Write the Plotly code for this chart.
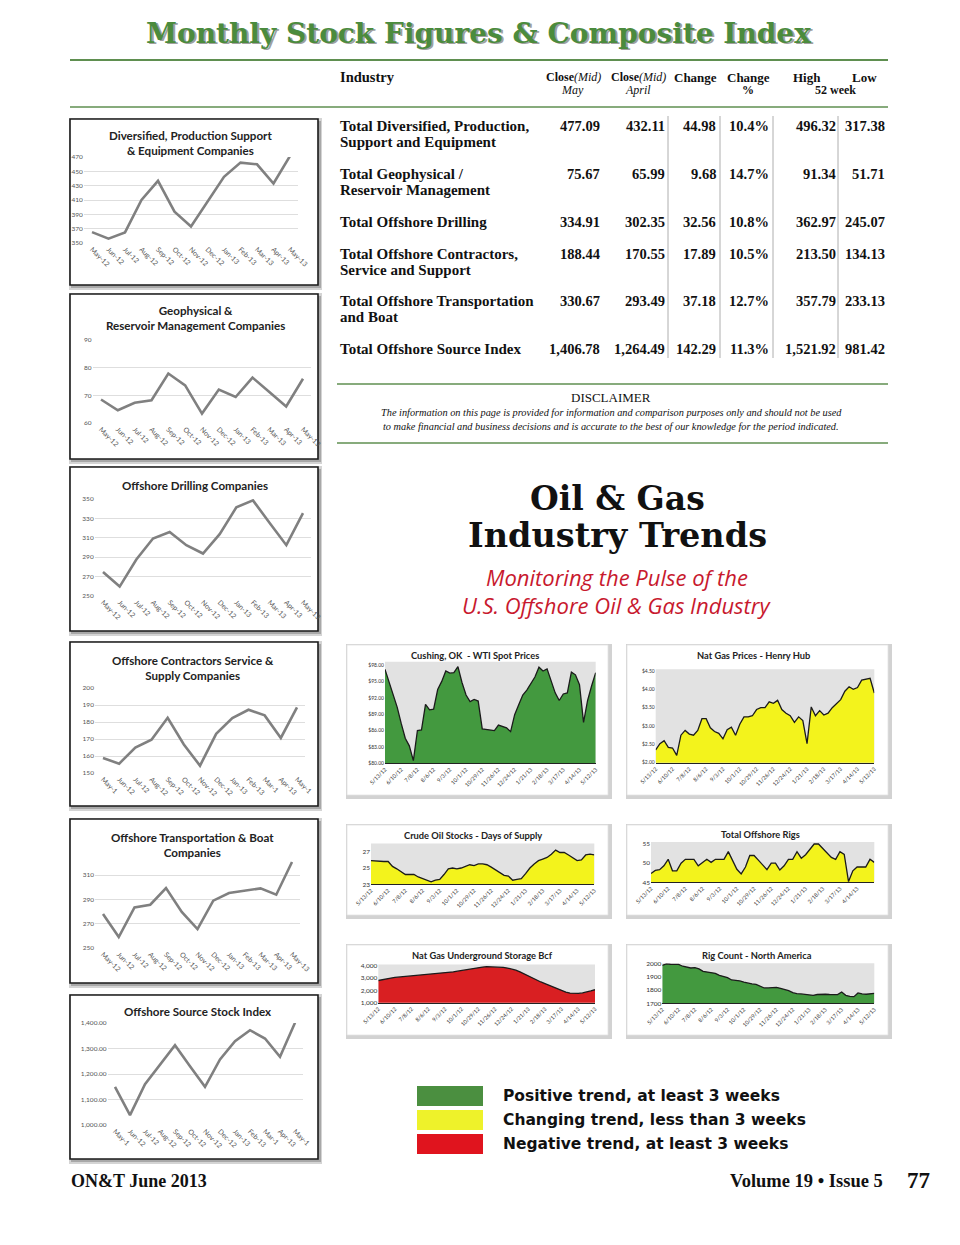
import plotly.graph_objects as go

W, H = 960, 1245          # page (window) size
OFF = 8                   # browser body margin
FW, FH = W - OFF, H - OFF  # figure size that fits the window

# ---------------- data ----------------
months_full = ["May-12", "Jun-12", "Jul-12", "Aug-12", "Sep-12", "Oct-12", "Nov-12",
               "Dec-12", "Jan-13", "Feb-13", "Mar-13", "Apr-13", "May-13"]
months_short = ["May-1", "Jun-12", "Jul-12", "Aug-12", "Sep-12", "Oct-12", "Nov-12",
                "Dec-12", "Jan-13", "Feb-13", "Mar-1", "Apr-13", "May-1"]

diversified = [365.2, 356.0, 364.8, 410.0, 436.8, 393.8, 373.0, 407.7, 442.3, 462.2, 459.8, 433.0, 471.4]
geophysical = [68.5, 64.6, 67.3, 68.2, 77.9, 73.6, 63.4, 72.1, 69.4, 76.4, 71.2, 66.0, 76.0]
drilling = [274.8, 259.7, 287.6, 309.3, 316.0, 302.4, 293.8, 313.8, 341.4, 348.6, 325.2, 302.4, 335.5]
contractors = [158.8, 155.5, 164.9, 169.6, 182.5, 166.8, 154.3, 173.0, 182.3, 187.2, 183.9, 170.6, 188.6]
transportation = [277.9, 259.0, 283.4, 285.6, 299.3, 279.6, 265.6, 288.9, 295.2, 297.1, 299.0, 293.8, 320.7]
source_index = [1149.7, 1038.6, 1160.0, 1238.6, 1313.0, 1230.7, 1149.7, 1256.9, 1328.8, 1371.9, 1339.2, 1267.3, 1400.7]

week_ticks = ["5/13/12", "6/10/12", "7/8/12", "8/6/12", "9/3/12", "10/1/12", "10/29/12",
              "11/26/12", "12/24/12", "1/21/13", "2/18/13", "3/17/13", "4/14/13", "5/12/13"]

wti = [97.2, 95.0, 92.8, 90.3, 87.3, 84.6, 83.2, 80.5, 86.0, 86.1, 90.8, 89.8, 89.9, 93.5,
       95.0, 96.9, 96.5, 96.6, 97.7, 94.8, 92.5, 91.3, 91.7, 91.4, 86.3, 86.2, 86.1, 86.0,
       87.0, 86.8, 86.5, 85.8, 88.9, 90.7, 92.5, 93.4, 94.6, 95.8, 97.6, 96.9, 97.3, 95.2,
       92.9, 91.5, 92.7, 92.9, 96.7, 96.2, 94.4, 87.5, 91.5, 94.2, 96.6]
henry_hub = [2.35, 2.52, 2.60, 2.42, 2.40, 2.20, 2.75, 2.88, 2.78, 2.75, 2.88, 3.20, 3.20, 2.95,
             2.85, 2.80, 2.65, 2.90, 2.97, 2.75, 3.05, 3.25, 3.25, 3.28, 3.45, 3.50, 3.50, 3.66,
             3.62, 3.70, 3.45, 3.35, 3.28, 3.10, 3.25, 3.15, 2.52, 3.52, 3.28, 3.42, 3.30, 3.35,
             3.50, 3.60, 3.72, 3.95, 4.07, 4.00, 4.05, 4.25, 4.27, 4.30, 3.90]
crude_days = [25.9, 25.85, 25.8, 25.8, 25.8, 25.2, 24.9, 24.5, 24.2, 24.2, 24.2, 23.9, 23.7, 23.5,
              23.3, 23.5, 23.6, 24.2, 24.9, 25.0, 24.9, 25.0, 25.2, 25.4, 25.3, 25.5, 25.5, 25.4,
              25.1, 24.8, 24.4, 24.1, 24.0, 23.5, 23.6, 23.7, 24.3, 25.0, 25.5, 25.9, 26.1, 26.3,
              26.7, 27.2, 26.9, 26.9, 26.6, 26.2, 25.9, 26.0, 26.6, 26.7, 26.6]
offshore_rigs = [47.3, 48.1, 48.3, 49.3, 51.0, 48.0, 48.0, 50.0, 51.0, 51.0, 51.0, 49.3, 50.2, 51.0,
                 50.2, 51.0, 51.0, 51.0, 53.0, 50.8, 48.4, 47.2, 49.0, 52.0, 52.0, 50.8, 49.5, 48.3,
                 50.0, 50.0, 48.2, 49.3, 51.0, 51.0, 53.0, 51.3, 52.2, 53.5, 55.0, 55.0, 53.8, 52.5,
                 51.5, 51.0, 53.0, 52.3, 45.2, 48.0, 49.0, 49.0, 49.0, 51.0, 50.2]
gas_storage = [2800, 2880, 2950, 3000, 3050, 3080, 3100, 3140, 3180, 3200, 3230, 3250, 3260, 3300,
               3330, 3380, 3420, 3460, 3500, 3560, 3620, 3690, 3750, 3800, 3850, 3890, 3920, 3920,
               3900, 3880, 3860, 3810, 3750, 3640, 3500, 3330, 3150, 2970, 2800, 2680, 2550, 2400,
               2250, 2100, 1950, 1860, 1780, 1760, 1750, 1790, 1850, 1950, 2050]
rig_count = [1985, 1995, 1993, 1990, 1992, 1978, 1970, 1965, 1968, 1958, 1940, 1935, 1932, 1925,
             1910, 1900, 1893, 1875, 1872, 1868, 1858, 1850, 1845, 1842, 1830, 1815, 1815, 1818,
             1820, 1812, 1805, 1795, 1780, 1772, 1770, 1768, 1762, 1760, 1766, 1768, 1768, 1766,
             1765, 1765, 1785, 1760, 1752, 1750, 1778, 1770, 1768, 1772, 1775]

industry_lines = [["Total Diversified, Production,", "Support and Equipment"],
                  ["Total Geophysical /", "Reservoir Management"],
                  ["Total Offshore Drilling"],
                  ["Total Offshore Contractors,", "Service and Support"],
                  ["Total Offshore Transportation", "and Boat"],
                  ["Total Offshore Source Index"]]
close_may = [477.09, 75.67, 334.91, 188.44, 330.67, 1406.78]
close_april = [432.11, 65.99, 302.35, 170.55, 293.49, 1264.49]
change = [44.98, 9.68, 32.56, 17.89, 37.18, 142.29]
change_pct = [10.4, 14.7, 10.8, 10.5, 12.7, 11.3]
high_52 = [496.32, 91.34, 362.97, 213.50, 357.79, 1521.92]
low_52 = [317.38, 51.71, 245.07, 134.13, 233.13, 981.42]

legend_labels = ["Positive trend, at least 3 weeks", "Changing trend, less than 3 weeks",
                 "Negative trend, at least 3 weeks"]

GREEN, YELLOW, RED = "#43993f", "#f3f31c", "#d91f22"

# ---------------- helpers (page pixels -> paper fraction) ----------------
def X(p):
    return (p - OFF) / FW


def Y(p):
    return 1 - (p - OFF) / FH


shapes, annotations = [], []
layout_axes = {}
fig = go.Figure()


def rect(x0, y0, x1, y1, fill, lc="rgba(0,0,0,0)", lw=0):
    shapes.append(dict(type="rect", xref="paper", yref="paper", x0=X(x0), x1=X(x1),
                       y0=Y(y1), y1=Y(y0), fillcolor=fill, line=dict(color=lc, width=lw),
                       layer="below"))


def seg(x0, y0, x1, y1, color, width):
    shapes.append(dict(type="line", xref="paper", yref="paper", x0=X(x0), x1=X(x1),
                       y0=Y(y0), y1=Y(y1), line=dict(color=color, width=width), layer="below"))


def text(x, y, s, size, family, color="#111", xanchor="center", yanchor="middle",
         weight="normal", style="normal"):
    annotations.append(dict(x=X(x), y=Y(y), xref="paper", yref="paper", text=s,
                            showarrow=False, xanchor=xanchor, yanchor=yanchor,
                            borderpad=0,
                            font=dict(size=size, family=family, color=color,
                                      weight=weight, style=style)))


def axis_names(n):
    return ("xaxis" if n == 1 else f"xaxis{n}", "yaxis" if n == 1 else f"yaxis{n}",
            "x" if n == 1 else f"x{n}", "y" if n == 1 else f"y{n}")


# ---------------- title & table ----------------
title = "Monthly Stock Figures & Composite Index"
text(480, 35, title, 28, "DejaVu Serif", color="#a0a0a0", weight="bold")
text(478, 33, title, 28, "DejaVu Serif", color="#4b8b3d", weight="bold")
seg(70, 60, 888, 60, "#5f8f50", 2)
seg(70, 107, 888, 107, "#5f8f50", 1.5)
seg(337, 384, 888, 384, "#5f8f50", 1.5)
seg(337, 443, 888, 443, "#5f8f50", 1.5)

SERIF = "Liberation Serif"
text(339, 77, "Industry", 14.5, SERIF, xanchor="left", weight="bold")
text(573, 77, "<b>Close</b><i>(Mid)</i>", 12, SERIF)
text(572, 90, "<i>May</i>", 12, SERIF)
text(638, 77, "<b>Close</b><i>(Mid)</i>", 12, SERIF)
text(638, 90, "<i>April</i>", 12, SERIF)
text(695, 77, "Change", 13, SERIF, weight="bold")
text(748, 77, "Change", 13, SERIF, weight="bold")
text(748, 90, "%", 12, SERIF, weight="bold")
text(807, 77, "High", 13, SERIF, weight="bold")
text(864, 77, "Low", 13, SERIF, weight="bold")
text(835, 90, "52 week", 12, SERIF, weight="bold")

row_y = [126, 174, 222, 254, 301, 349]
col_right = [600, 665, 716, 769, 836, 885]
for i, yy in enumerate(row_y):
    for k, line in enumerate(industry_lines[i]):
        text(339, yy + 16 * k, line, 15, SERIF, xanchor="left", weight="bold")
    vals = [f"{close_may[i]:,.2f}", f"{close_april[i]:,.2f}", f"{change[i]:,.2f}",
            f"{change_pct[i]:.1f}%", f"{high_52[i]:,.2f}", f"{low_52[i]:,.2f}"]
    for xr, v in zip(col_right, vals):
        text(xr + 1, yy, v, 14.5, SERIF, xanchor="right", weight="bold")
for xv in [668, 720, 773, 838]:
    seg(xv, 116, xv, 358, "#9a9a9a", 0.8)

text(611, 397, "DISCLAIMER", 13, SERIF)
text(611, 412, "The information on this page is provided for information and comparison purposes only and should not be used",
     10.3, SERIF, style="italic")
text(611, 427, "to make financial and business decisions and is accurate to the best of our knowledge for the period indicated.",
     10.3, SERIF, style="italic")

text(617, 498, "Oil & Gas", 33, "DejaVu Serif", color="#111", weight="bold")
text(617, 536, "Industry Trends", 33.5, "DejaVu Serif", color="#111", weight="bold")
text(617, 577, "Monitoring the Pulse of the", 22, "Open Sans", color="#c8192e", style="italic")
text(617, 605, "U.S. Offshore Oil & Gas Industry", 22, "Open Sans", color="#c8192e", style="italic")

# ---------------- left line charts ----------------
left_specs = [
    ("Diversified, Production Support<br>& Equipment Companies", months_full, diversified,
     92, 290, 243, 157, 350, 470, [350, 370, 390, 410, 430, 450, 470], None, (70, 119, 318, 285), 190, 143.5),
    ("Geophysical &<br>Reservoir Management Companies", months_full, geophysical,
     101, 303, 423, 340, 60, 90, [60, 70, 80, 90], None, (70, 294, 318, 459), 195, 318.5),
    ("Offshore Drilling Companies", months_full, drilling,
     103, 303, 596, 499, 250, 350, [250, 270, 290, 310, 330, 350], None, (70, 467, 318, 631), 195, 485),
    ("Offshore Contractors Service &<br>Supply Companies", months_short, contractors,
     103, 297, 773, 688, 150, 200, [150, 160, 170, 180, 190, 200], None, (70, 642, 318, 806), 193, 667.5),
    ("Offshore Transportation & Boat<br>Companies", months_full, transportation,
     103, 292, 948, 875, 250, 310, [250, 270, 290, 310], None, (70, 819, 318, 983), 192, 845),
    ("Offshore Source Stock Index", months_short, source_index,
     115, 295, 1125, 1023, 1000, 1400, [1000, 1100, 1200, 1300, 1400], "{:,.2f}", (70, 995, 318, 1159), 198, 1012),
]

n = 0
for (ttl, labels, vals, xf, xl, yb, yt, ymin, ymax, yticks, fmt, box, tx, ty) in left_specs:
    n += 1
    xa, ya, xr, yr = axis_names(n)
    bx0, by0, bx1, by1 = box
    rect(bx0 - 1, by0 - 1, bx1 + 4, by1 + 5, "#d4d4d4")
    rect(bx0 + 1, by0 + 2, bx1 + 3, by1 + 3, "#a8a8a8")
    rect(bx0, by0, bx1, by1, "white", "#1a1a1a", 1.6)
    idx = list(range(len(labels)))
    unit = (xl - xf) / (len(labels) - 1)
    per = (yb - yt) / (ymax - ymin)
    top_val = ymax if n != 5 else 322
    ytop_px = yb - (top_val - ymin) * per
    fig.add_trace(go.Scatter(x=idx, y=vals, mode="lines", xaxis=xr, yaxis=yr,
                             line=dict(color="#808080", width=2.6), hoverinfo="skip"))
    layout_axes[xa] = dict(domain=[X(xf - 0.5 * unit), X(xl + 0.5 * unit)], range=[-0.5, len(labels) - 0.5],
                           anchor=yr, tickmode="array", tickvals=idx, ticktext=labels, tickangle=45,
                           tickfont=dict(size=7, family="Lato", color="#555"), showgrid=False,
                           zeroline=False, showline=False, ticks="", fixedrange=True, automargin=False)
    layout_axes[ya] = dict(domain=[Y(yb), Y(ytop_px)], range=[ymin, top_val], anchor=xr,
                           tickmode="array", tickvals=yticks,
                           ticktext=[fmt.format(v) if fmt else str(v) for v in yticks],
                           tickfont=dict(size=6.5, family="Lato", color="#555"), showgrid=True,
                           gridcolor="#dedede", gridwidth=1, zeroline=False, showline=False,
                           ticks="", fixedrange=True, automargin=False)
    text(tx, ty, ttl, 11.6, "Lato", color="#222", weight="bold")

# ---------------- right area charts ----------------
right_specs = [
    ("Cushing, OK  - WTI Spot Prices", wti, GREEN, 385, 595.7, 763.3, 665, 80, 98, 98.6,
     [80, 83, 86, 89, 92, 95, 98], "${:.2f}", week_ticks, (347, 645, 608, 795), 475, 655, 5),
    ("Nat Gas Prices - Henry Hub", henry_hub, YELLOW, 655.7, 874.3, 762.7, 671, 2, 4.5, 4.55,
     [2.0, 2.5, 3.0, 3.5, 4.0, 4.5], "${:.2f}", week_ticks, (627, 645, 888, 795), 753, 655, 5),
    ("Crude Oil Stocks - Days of Supply", crude_days, YELLOW, 371, 594.3, 884.3, 851.7, 23, 27, 28,
     [23, 25, 27], "{}", week_ticks, (347, 825, 608, 915), 473, 835, 6.5),
    ("Total Offshore Rigs", offshore_rigs, YELLOW, 651, 874.3, 882.3, 844, 45, 55, 55.5,
     [45, 50, 55], "{}", week_ticks[:-1], (627, 825, 888, 915), 760, 834, 6.5),
    ("Nat Gas Underground Storage Bcf", gas_storage, RED, 378.3, 595, 1002.7, 965.7, 1000, 4000, 4100,
     [1000, 2000, 3000, 4000], "{:,}", week_ticks, (347, 945, 608, 1035), 482, 955, 6.5),
    ("Rig Count - North America", rig_count, GREEN, 662.3, 874.3, 1003.3, 963.3, 1700, 2000, 2000,
     [1700, 1800, 1900, 2000], "{}", week_ticks, (627, 945, 888, 1035), 757, 955, 6.5),
]

for (ttl, vals, color, x0, x1, yb, yt, ymin, ymax, ytop, yticks, fmt, xlabels, box, tx, ty, yfs) in right_specs:
    n += 1
    xa, ya, xr, yr = axis_names(n)
    bx0, by0, bx1, by1 = box
    rect(bx0 - 1, by0 - 1, bx1 + 4, by1 + 4, "#d2d2d2")
    rect(bx0, by0, bx1, by1, "white", "#e2e2e2", 0.8)
    per = (yb - yt) / (ymax - ymin)
    ytop_px = yb - (ytop - ymin) * per
    rect(x0, ytop_px, x1, yb, "#e2e2e2")
    idx = list(range(len(vals)))
    fig.add_trace(go.Scatter(x=idx, y=vals, mode="lines", fill="tozeroy", fillcolor=color,
                             xaxis=xr, yaxis=yr, line=dict(color="#1b1b1b", width=1.3),
                             hoverinfo="skip"))
    layout_axes[xa] = dict(domain=[X(x0), X(x1)], range=[0, len(vals) - 1], anchor=yr,
                           tickmode="array", tickvals=list(range(0, 4 * len(xlabels), 4)),
                           ticktext=xlabels, tickangle=-45,
                           tickfont=dict(size=5.5, family="Lato", color="#333"), showgrid=False,
                           zeroline=False, showline=True, linecolor="#222", linewidth=1,
                           ticks="", fixedrange=True, automargin=False)
    layout_axes[ya] = dict(domain=[Y(yb), Y(ytop_px)], range=[ymin, ytop], anchor=xr,
                           tickmode="array", tickvals=yticks,
                           ticktext=[fmt.format(v) for v in yticks],
                           tickfont=dict(size=yfs, family="Lato", color="#333"), showgrid=False,
                           zeroline=False, showline=False, ticks="", fixedrange=True, automargin=False)
    text(tx, ty, ttl, 9.3, "Lato", color="#222", weight="bold")

# ---------------- legend & footer ----------------
legend_colors = ["#4b8f40", "#eef22a", "#e0141e"]
for i, (lab, col) in enumerate(zip(legend_labels, legend_colors)):
    yy = 1086 + 24 * i
    rect(417, yy, 483, yy + 20, col)
    text(502, yy + 10, lab, 15.5, "DejaVu Sans", color="#111", xanchor="left", weight="bold")

text(70, 1181, "ON&T June 2013", 18, SERIF, xanchor="left", weight="bold")
text(884, 1181, "Volume 19 • Issue 5", 18.5, SERIF, xanchor="right", weight="bold")
text(931, 1180, "77", 23, SERIF, xanchor="right", weight="bold")

fig.update_layout(template="none", width=FW, height=FH, margin=dict(l=0, r=0, t=0, b=0, pad=0),
                  paper_bgcolor="white", plot_bgcolor="rgba(0,0,0,0)", showlegend=False,
                  shapes=shapes, annotations=annotations, **layout_axes)
fig.write_html("out.html")
